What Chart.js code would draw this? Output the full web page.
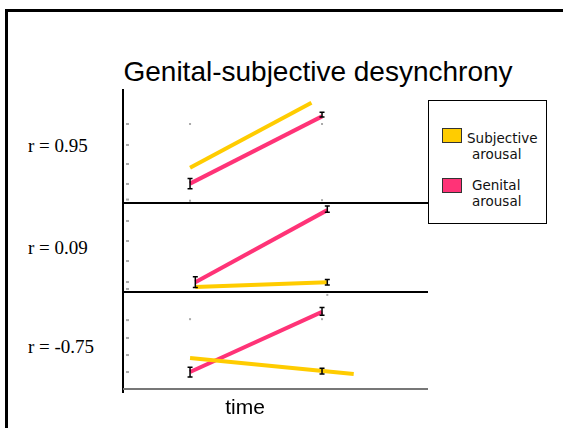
<!DOCTYPE html>
<html>
<head>
<meta charset="utf-8">
<script src="https://cdn.jsdelivr.net/npm/chart.js@4"></script>
<style>
  body { margin: 0; width: 563px; height: 428px; background: #fff; position: relative; overflow: hidden; }
  #frame { position: absolute; left: 5px; top: 9px; width: 600px; height: 500px; border-left: 3px solid #000; border-top: 3px solid #000; }
  #title { position: absolute; left: 68px; width: 500px; top: 58px; text-align: center; font: 28px "Liberation Sans", Arial, sans-serif; line-height: 28px; color: #000; }
  .rlabel { position: absolute; left: 28px; font: 19px "Liberation Serif", "Times New Roman", serif; line-height: 19px; color: #000; }
  .panel { position: absolute; left: 123px; width: 305px; }
  .line { position: absolute; background: #000; }
  #xlabel { position: absolute; left: 195px; width: 100px; top: 396px; text-align: center; font: 21px "Liberation Sans", Arial, sans-serif; line-height: 21px; }
  #legend { position: absolute; left: 428px; top: 100px; width: 117px; height: 122px; border: 1px solid #000; font: 13.5px "DejaVu Sans", Tahoma, sans-serif; line-height: 16px; color: #111; }
  .sw { position: absolute; left: 13px; width: 18px; height: 13px; border: 1px solid #333; }
  .lt { position: absolute; left: 43px; }
</style>
</head>
<body>
<div id="frame"></div>
<div id="title">Genital-subjective desynchrony</div>

<div class="panel" id="p0" style="top:89px;height:114px"><canvas id="c0"></canvas></div>
<div class="panel" id="p1" style="top:203px;height:89px"><canvas id="c1"></canvas></div>
<div class="panel" id="p2" style="top:292px;height:97px"><canvas id="c2"></canvas></div>

<div class="line" style="left:122px;top:89px;width:2px;height:304px"></div>
<div class="line" style="left:123px;top:202px;width:305px;height:2px"></div>
<div class="line" style="left:123px;top:291px;width:305px;height:2px"></div>
<div class="line" style="left:123px;top:388px;width:305px;height:2px;background:#777"></div>

<div id="rl0" class="rlabel" style="top:136px"></div>
<div id="rl1" class="rlabel" style="top:238px"></div>
<div id="rl2" class="rlabel" style="top:337px"></div>

<div id="xlabel">time</div>

<div id="legend">
  <div class="sw" style="top:27px;background:#FFCC00"></div>
  <div class="lt" style="top:29px;left:38px">Subjective</div>
  <div class="lt" style="top:45px">arousal</div>
  <div class="sw" style="top:77px;background:#FF3377"></div>
  <div class="lt" style="top:76px">Genital</div>
  <div class="lt" style="top:92px">arousal</div>
</div>

<script>
// Підписи панелей
const panelLabels = ["r = 0.95", "r = 0.09", "r = -0.75"];

// Суб'єктивне збудження: час і значення для кожної панелі
const subjT = [[1.0, 1.92], [1.04, 2.04], [1.0, 2.24]];
const subjY = [[3.1, 8.8], [0.55, 1.1], [3.2, 1.55]];

// Генітальне збудження
const genT = [[1.0, 2.0], [1.04, 2.04], [1.0, 2.0]];
const genY = [[1.7, 7.6], [1.1, 9.2], [1.75, 7.95]];

// Похибки (планки)
const errT = [[1.0, 2.0], [1.04, 2.04, 2.04], [1.0, 2.0, 2.0]];
const errY = [[1.7, 7.75], [1.1, 9.3, 1.1], [1.75, 8.0, 1.85]];
const errSize = [[0.45, 0.2], [0.6, 0.35, 0.3], [0.5, 0.4, 0.3]];

// Сірі поділки на осі Y
const tickY = [[0.3, 1.67, 3.42, 5.09, 6.93], [0.34, 1.12, 3.48, 5.73, 7.98], [1.75, 3.5, 5.26, 7.1]];

// Сірі точки над моментами часу
const dotT = [[1.0, 2.0, 1.0, 2.0], [], [1.0, 2.0, 2.04]];
const dotY = [[6.93, 6.93, 0.2, 0.25], [], [7.2, 7.2, 9.7]];

const colSubj = "#FFCC00";
const colGen = "#FF3377";

const pairs = (ts, ys) => ts.map((t, i) => ({ x: t, y: ys[i] }));

// планки похибок і поділки
const extras = {
  id: "extras",
  afterDatasetsDraw(chart) {
    const i = chart.options.panelIndex;
    const { ctx, scales: { x, y } } = chart;
    ctx.save();
    ctx.fillStyle = "#aaa";
    tickY[i].forEach(v => {
      const py = y.getPixelForValue(v);
      ctx.fillRect(x.left + 3, py - 1, 3, 2);
    });
    dotT[i].forEach((t, k) => {
      ctx.fillRect(x.getPixelForValue(t) - 1, y.getPixelForValue(dotY[i][k]) - 1, 2, 2);
    });
    ctx.strokeStyle = "#000";
    ctx.lineWidth = 1.5;
    errT[i].forEach((t, k) => {
      const px = x.getPixelForValue(t);
      const top = y.getPixelForValue(errY[i][k] + errSize[i][k]);
      const bot = y.getPixelForValue(errY[i][k] - errSize[i][k]);
      ctx.beginPath();
      ctx.moveTo(px, top); ctx.lineTo(px, bot);
      ctx.moveTo(px - 2.5, top); ctx.lineTo(px + 2.5, top);
      ctx.moveTo(px - 2.5, bot); ctx.lineTo(px + 2.5, bot);
      ctx.stroke();
    });
    ctx.restore();
  }
};

function makePanel(i) {
  document.getElementById("rl" + i).textContent = panelLabels[i];
  new Chart(document.getElementById("c" + i), {
    type: "line",
    data: {
      datasets: [
        { label: "Subjective arousal", data: pairs(subjT[i], subjY[i]), borderColor: colSubj, borderWidth: 4, pointRadius: 0, clip: false },
        { label: "Genital arousal", data: pairs(genT[i], genY[i]), borderColor: colGen, borderWidth: 4, pointRadius: 0, clip: false }
      ]
    },
    options: {
      panelIndex: i,
      responsive: true,
      maintainAspectRatio: false,
      animation: false,
      layout: { padding: 0 },
      plugins: { legend: { display: false }, tooltip: { enabled: false } },
      scales: {
        x: { type: "linear", min: 0.492, max: 2.803, display: false },
        y: { min: 0, max: 10, display: false }
      }
    },
    plugins: [extras]
  });
}

[0, 1, 2].forEach(makePanel);
</script>
</body>
</html>
